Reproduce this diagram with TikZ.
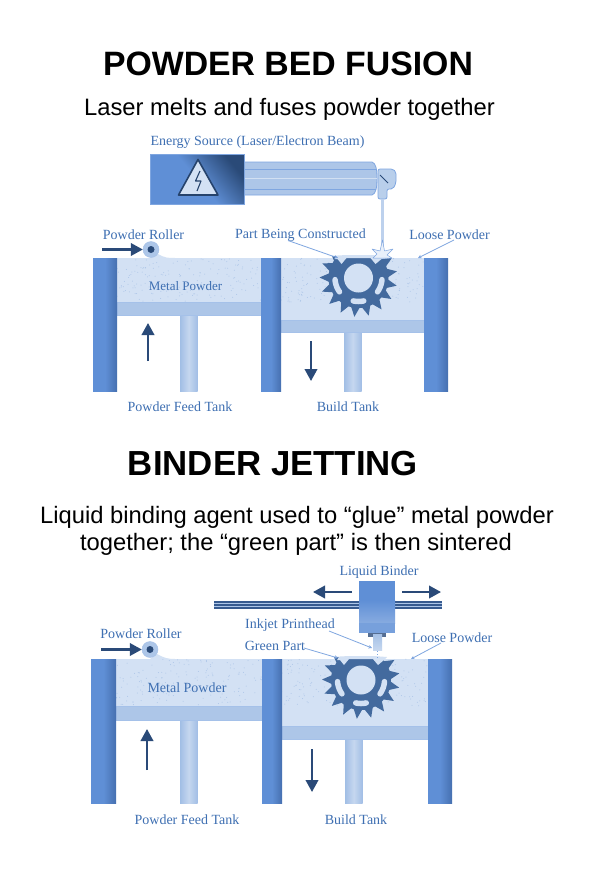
\documentclass[tikz,border=0pt]{standalone}
\usepackage{fontspec}
\setmainfont{Liberation Serif}
\newfontfamily\headfont{Liberation Sans}
\definecolor{lblue}{HTML}{3E6FB2}
\definecolor{wallc}{HTML}{5F8FD6}
\definecolor{walld}{HTML}{4670B0}
\definecolor{powc}{HTML}{D3E1F4}
\definecolor{pisc}{HTML}{ADC6E8}
\definecolor{navy}{HTML}{2A4A78}
\definecolor{gearc}{HTML}{436A9E}
\definecolor{edgec}{HTML}{7FA6E0}
\usetikzlibrary{arrows.meta}
\tikzset{
  x=1pt,y=-1pt,
  title/.style={font=\headfont\bfseries\fontsize{#1}{36}\selectfont,inner sep=0pt,text=black},
  subtitle/.style={font=\headfont\fontsize{23.75}{26}\selectfont,inner sep=0pt,text=black,yshift=-1.5pt},
  lab/.style={font=\fontsize{14}{14}\selectfont,inner sep=0pt,text=lblue,yshift=-0.8pt},
  leader/.style={draw=edgec,line width=0.8pt,-{Stealth[length=3.5pt,width=3.5pt]}},
  move/.style={draw=navy,line width=2.2pt,-{Triangle[length=12pt,width=12.5pt]}},
  wall/.style={left color=wallc,right color=walld,middle color=wallc,draw=none},
  stem/.style={left color=pisc!85!wallc,right color=pisc!85!wallc,middle color=pisc!70!white,draw=none},
  piston/.style={fill=pisc,draw=edgec!70!white,line width=0.5pt},
  powder/.style={fill=powc,draw=none},
}
\newcommand{\tankset}[8]{%
  \fill[powder] (#2,#7) rectangle (#3,\lpisy);
  \fill[powder] (#4,#7) rectangle (#5,\rpisy);
  \pgfmathsetseed{#7}
  \foreach \i in {1,...,320}{
    \pgfmathsetmacro{\dx}{#2+rnd*(#5-#2)}
    \pgfmathsetmacro{\dy}{#7+rnd*(\lpisy-#7)}
    \fill[pisc] (\dx,\dy) circle (0.5);
  }
  \fill[stem] (\lstemx,\lpisb) rectangle (\lstemx+17.5,#8);
  \fill[stem] (\rstemx,\rpisb) rectangle (\rstemx+17.5,#8);
  \draw[piston] (#2,\lpisy) rectangle (#3,\lpisb);
  \draw[piston] (#4,\rpisy) rectangle (#5,\rpisb);
}
\newcommand{\gearshape}[3]{% cx cy topy
  \begin{scope}
    \clip (#1-50,#3-1.5) rectangle (#1+50,#2+50);
    \foreach \k in {0,...,16}{
      \pgfmathsetmacro{\a}{31+\k*21.176}
      \fill[gearc,line join=round] ({#1+29.5*cos(\a-8.5)},{#2-29.5*sin(\a-8.5)}) -- ({#1+39*cos(\a)},{#2-39*sin(\a)}) -- ({#1+29.5*cos(\a+8.5)},{#2-29.5*sin(\a+8.5)}) -- cycle;
    }
    \fill[gearc] (#1,#2) circle (30);
  \end{scope}
  \fill[powc] (#1-30,#3-2) -- (#1-22,#3-2) -- (#1-24,#3+1) -- (#1-21,#3+1) -- (#1-17,#3+6) -- (#1-12,#3) -- (#1+12,#3) -- (#1+17,#3+6) -- (#1+23,#3+1) -- (#1+26,#3-2) -- (#1+12,#3-3) -- (#1-12,#3-3) -- cycle;
  \fill[powc] (#1,#2) circle (14.5);
  \foreach \a/\h in {200/16,340/16,270/13}{
    \draw[powc,line width=5.5pt,line cap=round] plot[domain={\a-\h}:{\a+\h},samples=9] ({#1+23.5*cos(\x)},{#2-23.5*sin(\x)});
  }
}
\begin{document}
\begin{tikzpicture}
\useasboundingbox (0,0) rectangle (590,886);
\fill[white] (0,0) rectangle (590,886);

% ---------- Powder bed fusion
\node[title=33.8] (t1) at (288,64) {POWDER BED FUSION};
\node[subtitle] (s1) at (289.5,108) {Laser melts and fuses powder together};
\node[lab] (energy) at (257.5,141) {Energy Source (Laser/Electron Beam)};

\def\lpisy{302}\def\lpisb{315}\def\rpisy{320}\def\rpisb{332}\def\lstemx{180}\def\rstemx{344}
\tankset{93}{117}{261}{281}{424}{448}{258}{391}
\fill[powc] (158,254) .. controls (165,258) and (168,258) .. (175,258) -- (150,258) -- cycle;
\gearshape{358.5}{278}{258}
\fill[wall] (93,258) rectangle (117,391);
\fill[wall] (261,258) rectangle (281,391);
\fill[wall] (424,258) rectangle (448,391);

% laser
\draw[draw=edgec,fill=pisc!85!white,line width=0.8pt,rounded corners=2pt] (378,169) -- (393,169) -- (396,172) -- (396,183) -- (393,189) -- (387,189) -- (387,199) -- (378,199) -- cycle;
\fill[pisc!80!white] (381,199) rectangle (384,252);
\draw[draw=edgec,fill=pisc,line width=0.8pt] (244,162) -- (372,162) .. controls (376,163) and (377,170) .. (377,178) .. controls (377,187) and (376,194) .. (372,195) -- (244,195) -- cycle;
\draw[edgec,line width=0.6pt] (244,169) -- (376,169) (244,189) -- (376,189);
\draw[pisc!55!white,line width=1pt] (244,178) -- (377,178);
\draw[navy,line width=0.9pt] (380,175) -- (388,183);
\draw[edgec,fill=powc!50!white,line width=.5pt,line join=round] (382.5,240) -- (384.5,251) -- (393,249) -- (387,255) -- (392,258) -- (373,258) -- (377,254) -- (372,249) -- (380,251) -- cycle;
\shade[top color=navy,bottom color=wallc,middle color=wallc,shading angle=-50] (150,154) rectangle (244,204);
\draw[edgec,line width=0.5pt] (150,154) rectangle (244,204);
\draw[navy!90!black,fill=powc,line width=1.6pt,line join=round] (198,159.5) -- (218,195) -- (178.5,195) -- cycle;
\draw[navy!90!black,line width=1.1pt,line join=round] (200,171) -- (195.5,181) -- (201,181) -- (197,191);

% labels
\node[lab] (roller1) at (143.5,234) {Powder Roller};
\node[lab] (part) at (300.5,234) {Part Being Constructed};
\node[lab] (loose1) at (449.5,234) {Loose Powder};
\node[lab,font=\fontsize{13}{13}\selectfont] (metal1) at (185.5,285) {Metal Powder};
\node[lab] (feed1) at (180,406) {Powder Feed Tank};
\node[lab] (build1) at (348,406) {Build Tank};

\coordinate (partfrom) at (288,240.5);
\coordinate (partend) at (338,258);
\coordinate (loosefrom) at (454,240);
\coordinate (looseend) at (418,258);
\draw[leader] (partfrom) -- (partend);
\draw[leader] (loosefrom) -- (looseend);

\node[circle,minimum size=16pt,inner sep=0pt,fill=pisc,draw=edgec!70!white,line width=.4pt] (rol1) at (151,249.5) {};
\node[circle,minimum size=7pt,inner sep=0pt,fill=navy] (rolc1) at (151,249.5) {};
\coordinate (ra1) at (102,249.5);
\draw[move] (ra1) -- (rol1.west);
\coordinate (ua1) at (148,361);\coordinate (ua2) at (148,323);
\draw[move] (ua1) -- (ua2);
\coordinate (da1) at (311,341);\coordinate (da2) at (311,381);
\draw[move] (da1) -- (da2);

% ---------- Binder jetting
\node[title=34.8] (t2) at (273,464) {BINDER JETTING};
\node[subtitle] (s2) at (297,516) {Liquid binding agent used to “glue” metal powder};
\node[subtitle] (s3) at (296,543) {together; the “green part” is then sintered};

\def\lpisy{706}\def\lpisb{720}\def\rpisy{726}\def\rpisb{739}\def\lstemx{180}\def\rstemx{345}
\tankset{91}{116}{262}{282}{428}{452}{659}{803}
\fill[powc] (157,654) .. controls (164,658) and (168,659) .. (175,659) -- (150,659) -- cycle;
\gearshape{361}{680}{659}
\fill[wall] (91,659) rectangle (116,803);
\fill[wall] (262,659) rectangle (282,803);
\fill[wall] (428,659) rectangle (452,803);

% printhead
\fill[navy!75!wallc] (214,601) rectangle (442,609);
\draw[pisc,line width=.6pt] (214,603.5) -- (442,603.5) (214,606) -- (442,606);
\fill[navy!80!white] (368,633) rectangle (386,637);
\shade[top color=pisc!90!wallc,bottom color=pisc!70!white] (373,634) rectangle (382,650);
\draw[edgec,line width=1pt,dotted] (377,651) -- (377,658);
\fill[wallc] (359,581) rectangle (395,633);
\shade[top color=wallc,bottom color=wallc!75!white] (359,600) rectangle (395,623);
\fill[wallc!85!white] (359,623) rectangle (395,633);

\node[lab] (binder) at (379,571) {Liquid Binder};
\node[lab] (inkjet) at (290,624) {Inkjet Printhead};
\node[lab] (green) at (275,645.5) {Green Part};
\node[lab] (loose2) at (452,637) {Loose Powder};
\node[lab] (roller2) at (141,633) {Powder Roller};
\node[lab] (metal2) at (187,687) {Metal Powder};
\node[lab] (feed2) at (187,819) {Powder Feed Tank};
\node[lab] (build2) at (356,819) {Build Tank};

\coordinate (inkfrom) at (329,631);\coordinate (inkend) at (372,648);
\coordinate (greenfrom) at (304,648);\coordinate (greenend) at (338,658);
\coordinate (loose2from) at (441,643);\coordinate (loose2end) at (411,659);
\draw[leader] (inkfrom) -- (inkend);
\draw[leader] (greenfrom) -- (greenend);
\draw[leader] (loose2from) -- (loose2end);

\node[circle,minimum size=16pt,inner sep=0pt,fill=pisc,draw=edgec!70!white,line width=.4pt] (rol2) at (150,649.5) {};
\node[circle,minimum size=7pt,inner sep=0pt,fill=navy] (rolc2) at (150,649.5) {};
\coordinate (rb1) at (101,649.5);
\draw[move] (rb1) -- (rol2.west);
\coordinate (ub1) at (147,770);\coordinate (ub2) at (147,729);
\draw[move] (ub1) -- (ub2);
\coordinate (db1) at (312,749);\coordinate (db2) at (312,792);
\draw[move] (db1) -- (db2);
\coordinate (lb1) at (352,592);\coordinate (lb2) at (313,592);
\draw[move] (lb1) -- (lb2);
\coordinate (rb3) at (402,592);\coordinate (rb4) at (441,592);
\draw[move] (rb3) -- (rb4);
\end{tikzpicture}
\end{document}
